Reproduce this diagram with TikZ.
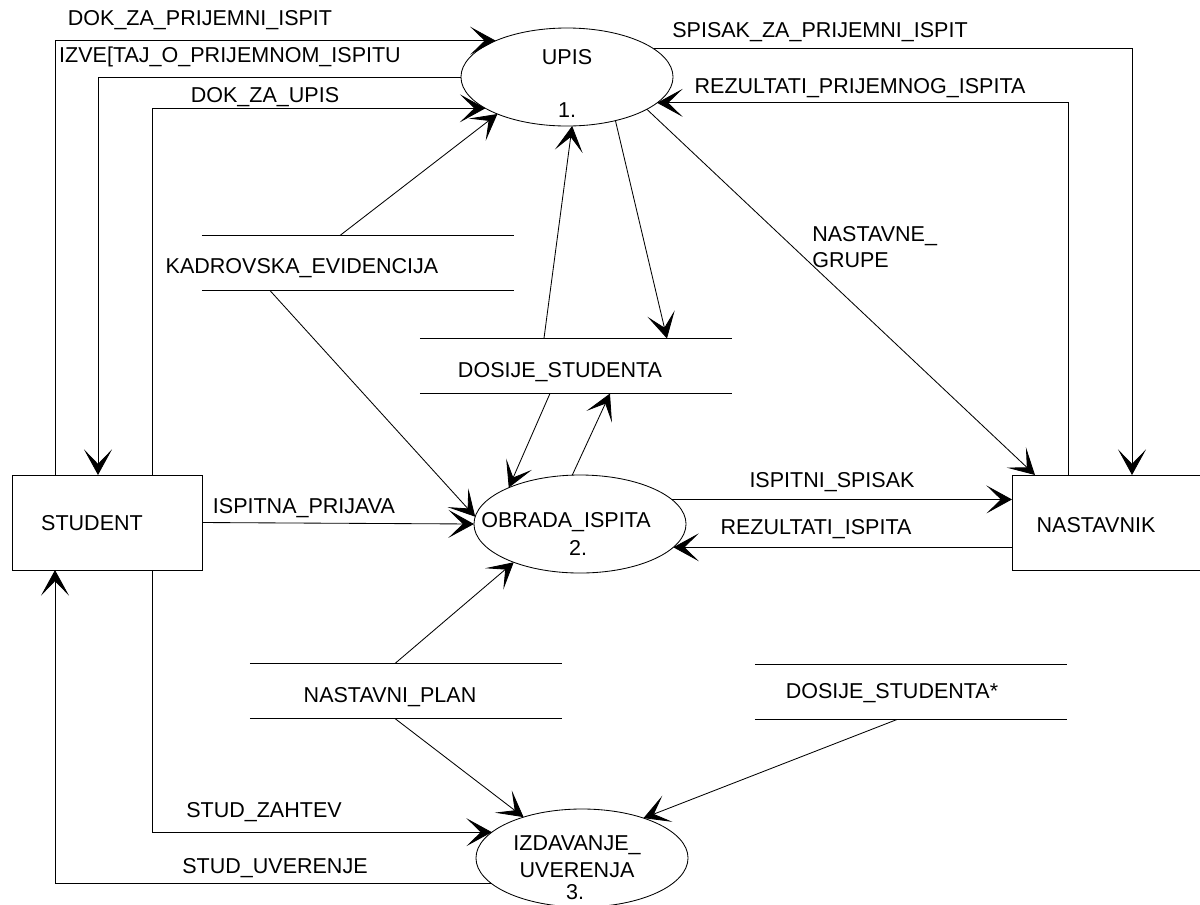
\documentclass[tikz,border=0pt]{standalone}
\usepackage{fontspec}
\setmainfont{Liberation Sans}
\usetikzlibrary{arrows.meta, calc, shapes.geometric}

\begin{document}
\begin{tikzpicture}[
		x=0.025cm, y=-0.025cm,
		texts/.style = {text=black, inner sep=0pt, font=\fontsize{15.3}{19}\selectfont},
		flow/.style = {draw=black, line width=0.6pt, -{Stealth[length=0.64cm, width=0.7cm, inset=0.36cm]}},
		procnode/.style = {ellipse, draw=black, line width=0.6pt, inner sep=0pt, outer sep=0pt, minimum width=5.3cm, minimum height=2.45cm},
		entity/.style = {rectangle, draw=black, line width=0.6pt, inner sep=0pt, outer sep=0pt, minimum width=4.75cm, minimum height=2.375cm},
		store/.style = {inner sep=0pt, outer sep=0pt, minimum width=7.8cm, minimum height=1.375cm},
		storeline/.style = {draw=black, line width=0.6pt}
		]
		\useasboundingbox (0,0) rectangle (1200,904);
		
		% procesi, entiteti, skladista
		\node[procnode] (upis) at (567,77) {};
		\node[procnode] (obrada) at (580,524) {};
		\node[procnode] (izdavanje) at (582,858) {};
		\node[entity] (student) at (107,522.5) {};
		\node[entity] (nastavnik) at (1107,522.5) {};
		\node[store] (kadrovska) at (358,263) {};
		\node[store] (dosije) at (576,366) {};
		\node[store] (plan) at (406,691) {};
		\node[store] (dosijez) at (911,692) {};
		\foreach \s in {kadrovska, dosije, plan, dosijez}
			\draw[storeline] (\s.north west) -- (\s.north east) (\s.south west) -- (\s.south east);
		
		\node[texts] (upistxt) at ($(upis)+(0,-20)$) {UPIS};
		\node[texts] (upisnr) at ($(upis)+(0,33)$) {1.};
		\node[texts] (obradatxt) at ($(obrada)+(-14,-2)$) {OBRADA\_ISPITA};
		\node[texts] (obradanr) at ($(obrada)+(-2,24)$) {2.};
		\node[texts, align=center] (izdavanjetxt) at ($(izdavanje)+(-5,-1)$) {IZDAVANJE\_\\UVERENJA};
		\node[texts] (izdavanjenr) at ($(izdavanje)+(-7,34)$) {3.};
		\node[texts] (studenttxt) at (92,523) {STUDENT};
		\node[texts] (nastavniktxt) at (1096,525) {NASTAVNIK};
		\node[texts] (kadrovskatxt) at (302,268) {KADROVSKA\_EVIDENCIJA};
		\node[texts] (dosijetxt) at (560,372) {DOSIJE\_STUDENTA};
		\node[texts] (plantxt) at (390,697) {NASTAVNI\_PLAN};
		\node[texts] (dosijeztxt) at (892,693) {DOSIJE\_STUDENTA*};
		
		% tokovi podataka
		\draw[flow] ($(student.north)+(-52,0)$) |- (upis.153);
		\draw[flow] (upis.west) -| ($(student.north)+(-9,0)$);
		\draw[flow] ($(student.north)+(45,0)$) |- (upis.201);
		\draw[flow] (upis.18) -| ($(nastavnik.north)+(25,0)$);
		\draw[flow] ($(nastavnik.north)+(-39,0)$) |- (upis.344);
		\draw[flow] (upis.338) -- ($(nastavnik.north west)+(23,0)$);
		\draw[flow] (upis.318) -- ($(dosije.north west)+(247,0)$);
		\draw[flow] ($(dosije.north west)+(124,0)$) -- (upis.276);
		\draw[flow] ($(kadrovska.north west)+(138,0)$) -- (upis.208);
		\draw[flow] ($(kadrovska.south west)+(68,0)$) -- (obrada.176);
		\draw[flow] ($(dosije.south west)+(130,0)$) -- (obrada.153);
		\draw[flow] (obrada.99) -- ($(dosije.south west)+(190,0)$);
		\draw[flow] (student.east) -- (obrada.west);
		\draw[flow] (obrada.15) -- (obrada.15 -| nastavnik.west);
		\draw[flow] (obrada.346 -| nastavnik.west) -- (obrada.346);
		\draw[flow] ($(plan.north west)+(145,0)$) -- (obrada.210);
		\draw[flow] ($(plan.south west)+(145,0)$) -- (izdavanje.145);
		\draw[flow] ($(dosijez.south west)+(142,0)$) -- (izdavanje.33);
		\draw[flow] ($(student.south)+(45,0)$) |- (izdavanje.164);
		\draw[flow] (izdavanje.196) -| ($(student.south)+(-52,0)$);
		
		\node[texts] (dokprijtxt) at (200,20) {DOK\_ZA\_PRIJEMNI\_ISPIT};
		\node[texts] (izvestajtxt) at (230,57) {IZVE[TAJ\_O\_PRIJEMNOM\_ISPITU};
		\node[texts] (dokupistxt) at (265,97) {DOK\_ZA\_UPIS};
		\node[texts] (spisaktxt) at (820,32) {SPISAK\_ZA\_PRIJEMNI\_ISPIT};
		\node[texts] (rezprijtxt) at (860,88) {REZULTATI\_PRIJEMNOG\_ISPITA};
		\node[texts, align=left, anchor=west] (grupetxt) at (812,247) {NASTAVNE\_\\GRUPE};
		\node[texts] (ispitnitxt) at (832,482) {ISPITNI\_SPISAK};
		\node[texts] (rezisptxt) at (816,529) {REZULTATI\_ISPITA};
		\node[texts] (prijavatxt) at (304,508) {ISPITNA\_PRIJAVA};
		\node[texts] (zahtevtxt) at (264,812) {STUD\_ZAHTEV};
		\node[texts] (uverenjetxt) at (275,868) {STUD\_UVERENJE};
\end{tikzpicture}
\end{document}
